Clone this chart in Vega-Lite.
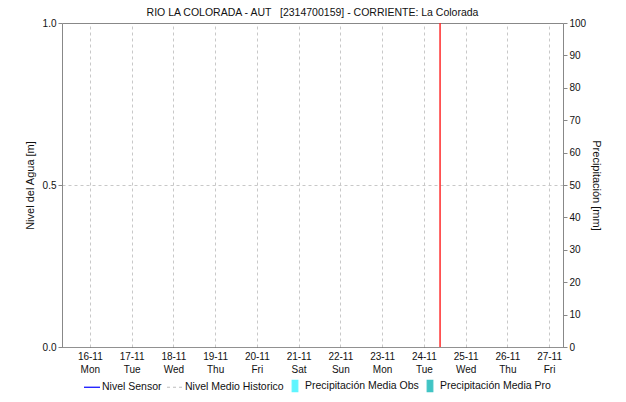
{
  "$schema": "https://vega.github.io/schema/vega-lite/v6.json",
  "width": 501,
  "height": 324,
  "autosize": "none",
  "padding": {"left": 62, "top": 23, "right": 63, "bottom": 55},
  "background": "white",
  "config": {
    "view": {"stroke": null},
    "font": "Liberation Sans",
    "axis": {"labelColor": "#111", "titleColor": "#111"}
  },
  "title": {
    "text": "RIO LA COLORADA - AUT \u00a0 [2314700159] - CORRIENTE: La Colorada",
    "fontSize": 10.5,
    "fontWeight": "normal",
    "color": "#111",
    "offset": 0
  },
  "layer": [
    {
      "data": {"values": [{"ahora": "2020-11-24T09:20:00"}]},
      "mark": {"type": "rule", "color": "#ff2a2a", "strokeWidth": 1.5},
      "encoding": {
        "x": {
          "field": "ahora",
          "type": "temporal",
          "scale": {"domain": [{"year": 2020, "month": 11, "date": 15, "hours": 8}, {"year": 2020, "month": 11, "date": 27, "hours": 8}], "padding": 0, "nice": false},
          "axis": {
            "orient": "bottom",
            "title": null,
            "tickCount": {"interval": "day", "step": 1},
            "labelExpr": "[timeFormat(datum.value, '%d-%m'), timeFormat(datum.value, '%a')]",
            "grid": true,
            "gridDash": [3, 3],
            "gridColor": "#c8c8c8",
            "ticks": false,
            "domainColor": "#222",
            "domainDash": [1, 1],
            "labelFontSize": 10,
            "labelPadding": 4,
            "labelLineHeight": 13
          }
        }
      }
    },
    {
      "data": {"values": [
        {"fecha": "2020-11-15T08:00:00", "nivel": null, "serie": "Nivel Sensor"},
        {"fecha": "2020-11-15T08:00:00", "nivel": null, "serie": "Nivel Medio Historico"}
      ]},
      "mark": {"type": "line"},
      "encoding": {
        "x": {
          "field": "fecha",
          "type": "temporal",
          "axis": {"orient": "top", "labels": false, "ticks": false, "grid": false, "domainColor": "#888", "title": null}
        },
        "y": {
          "field": "nivel",
          "type": "quantitative",
          "scale": {"domain": [0, 1], "nice": false, "zero": false},
          "axis": {
            "orient": "left",
            "values": [0, 0.5, 1],
            "format": ".1f",
            "grid": true,
            "gridDash": [3, 3],
            "gridColor": "#c8c8c8",
            "gridOpacity": {"condition": {"test": "datum.value == 0.5", "value": 1}, "value": 0},
            "domainColor": "#888",
            "tickColor": "#888",
            "tickSize": 4,
            "labelFontSize": 10,
            "labelPadding": 2,
            "title": "Nivel del Agua [m]",
            "titleFontSize": 11,
            "titleFontWeight": "normal",
            "titlePadding": 7
          }
        },
        "color": {
          "field": "serie",
          "type": "nominal",
          "scale": {
            "domain": ["Nivel Sensor", "Nivel Medio Historico", "Precipitación Media Obs", "Precipitación Media Pro"],
            "range": ["#0000ff", "#bdbdbd", "#5ff5ff", "#40c4c4"]
          },
          "legend": {
            "orient": "none",
            "legendX": 21,
            "legendY": 354,
            "direction": "horizontal",
            "title": null,
            "labelFontSize": 10.5,
            "labelColor": "#111",
            "labelOffset": 1,
            "columnPadding": 2,
            "symbolSize": 256,
            "labelLimit": 200,
            "encode": {
              "symbols": {
                "update": {
                  "shape": [
                    {"test": "indexof(datum.value, 'Precip') === 0", "value": "M-0.35,-0.7H0.35V0.7H-0.35Z"},
                    {"value": "stroke"}
                  ],
                  "fill": {"scale": "color", "field": "value"},
                  "stroke": {"scale": "color", "field": "value"},
                  "strokeDash": [
                    {"test": "datum.value === 'Nivel Medio Historico'", "value": [3, 3]},
                    {"value": []}
                  ],
                  "strokeWidth": {"value": 1.2},
                  "opacity": {"value": 1}
                }
              }
            }
          }
        }
      }
    },
    {
      "data": {"values": [
        {"fecha": "2020-11-15T08:00:00", "precip": null, "serie": "Precipitación Media Obs"},
        {"fecha": "2020-11-15T08:00:00", "precip": null, "serie": "Precipitación Media Pro"}
      ]},
      "mark": {"type": "bar"},
      "encoding": {
        "x": {"field": "fecha", "type": "temporal", "axis": null},
        "y": {
          "field": "precip",
          "type": "quantitative",
          "scale": {"domain": [0, 100], "nice": false},
          "axis": {
            "orient": "right",
            "values": [0, 10, 20, 30, 40, 50, 60, 70, 80, 90, 100],
            "grid": false,
            "domainColor": "#888",
            "tickColor": "#888",
            "tickSize": 4,
            "labelFontSize": 10,
            "labelPadding": 2,
            "title": "Precipitación [mm]",
            "titleFontSize": 11,
            "titleFontWeight": "normal",
            "titlePadding": 5
          }
        },
        "color": {"field": "serie", "type": "nominal"}
      }
    }
  ],
  "resolve": {"scale": {"y": "independent"}, "axis": {"x": "independent"}}
}
